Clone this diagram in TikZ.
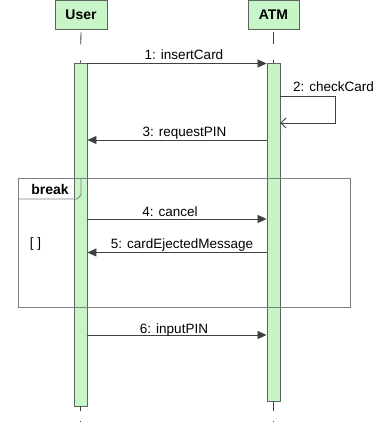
\documentclass[tikz,border=0pt]{standalone}
\usepackage{fontspec}
\setmainfont{Liberation Sans}
\usetikzlibrary{arrows.meta}
\definecolor{actgreen}{HTML}{C8F5C8}
\definecolor{actedge}{HTML}{5C665C}
\definecolor{msgcol}{HTML}{404040}
\definecolor{fragcol}{HTML}{7F7F7F}
\tikzset{
  every node/.style={font=\fontsize{13.5}{15}\selectfont, text=black},
  headbox/.style={draw=actedge, fill=actgreen, line width=0.9pt, minimum width=52pt,
    minimum height=29pt, inner sep=0pt, font=\fontsize{14}{16}\selectfont\bfseries},
  actbar/.style={draw=actedge, fill=actgreen, line width=0.9pt, minimum width=13pt, inner sep=0pt},
  lifeline/.style={draw=msgcol, line width=0.8pt},
  msg/.style={draw=msgcol, line width=0.8pt, -{Triangle[length=9pt,width=8pt]}},
  reply/.style={draw=msgcol, line width=0.8pt, -{Straight Barb[length=5pt,width=10pt]}},
  msglabel/.style={inner sep=0pt, anchor=base},
  frame/.style={draw=fragcol, line width=0.8pt}
}
\begin{document}
\begin{tikzpicture}[x=1pt, y=-1pt]
\useasboundingbox (0,0) rectangle (384,427);

% participants
\node[headbox] (user) at (81,14.5) {User};
\node[headbox, minimum width=51pt] (atm) at (273.5,14.5) {ATM};

% activation bars
\node[actbar, minimum height=343pt] (ubar) at (80.5,234.5) {};
\node[actbar, minimum height=338pt] (abar) at (273.5,232) {};

% lifelines above and below the bars
\draw[lifeline, dash pattern=on 12pt off 16pt, dash phase=-3pt] (user.south) -- (ubar.north);
\draw[lifeline, dash pattern=on 12pt off 16pt, dash phase=-3pt] (atm.south) -- (abar.north);
\coordinate (uend) at (80.5,427);
\coordinate (aend) at (273.5,427);
\draw[lifeline, dash pattern=on 5pt off 10pt on 1pt off 20pt] (ubar.south) -- (uend);
\draw[lifeline, dash pattern=on 10pt off 10pt on 1pt off 20pt] (abar.south) -- (aend);

% break fragment
\node[frame, minimum width=332pt, minimum height=129pt, inner sep=0pt] (brk) at (184,242.5) {};
\coordinate (tabA) at (18,199);
\coordinate (tabB) at (77,199);
\coordinate (tabC) at (81,195);
\coordinate (tabD) at (81,178);
\draw[frame] (tabA) -- (tabB) -- (tabC) -- (tabD);
\node[font=\fontsize{14}{16}\selectfont\bfseries, anchor=base] (brklbl) at (50,195) {break};
\node[anchor=base] (guard) at (35.5,247.5) {[ ]};

% messages
\draw[msg] (ubar.east |- 0,63.5) -- (abar.west |- 0,63.5);
\node[msglabel] (m1) at (184,60) {1: insertCard};

\coordinate (loopA) at (335,96);
\coordinate (loopB) at (335,123);
\draw[reply] (abar.east |- 0,96) -- (loopA) -- (loopB) -- (abar.east |- loopB);
\node[msglabel, anchor=base west] (m2) at (293,92) {2: checkCard};

\draw[msg] (abar.west |- 0,140) -- (ubar.east |- 0,140);
\node[msglabel] (m3) at (184.5,137) {3: requestPIN};

\draw[msg] (ubar.east |- 0,219) -- (abar.west |- 0,219);
\node[msglabel] (m4) at (170,216) {4: cancel};

\draw[msg] (abar.west |- 0,252.5) -- (ubar.east |- 0,252.5);
\node[msglabel] (m5) at (182,248) {5: cardEjectedMessage};

\draw[msg] (ubar.east |- 0,335) -- (abar.west |- 0,335);
\node[msglabel] (m6) at (174,333) {6: inputPIN};
\end{tikzpicture}
\end{document}
